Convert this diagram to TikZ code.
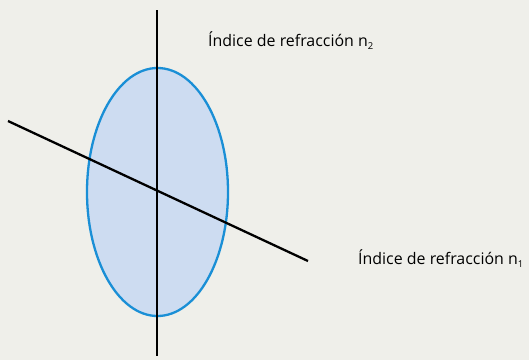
\documentclass[tikz,border=0pt]{standalone}
\usepackage{fontspec}
\setmainfont{Open Sans}
\definecolor{fondo}{HTML}{EFEFEA}
\definecolor{lente}{HTML}{CDDCF1}
\definecolor{borde}{HTML}{1A8FD6}
\tikzset{
    eje/.style={line width=2.3bp, black},
    rotulo/.style={anchor=base west, inner sep=0pt, font=\fontsize{16}{18}\selectfont}
}
\newcommand{\subind}[1]{\raisebox{-0.45ex}{\fontsize{9.5}{10}\selectfont #1}}
\begin{document}
\begin{tikzpicture}[x=1bp,y=-1bp]
    % fondo
    \fill[fondo] (0,0) rectangle (529,360);
    \useasboundingbox (0,0) rectangle (529,360);

    % lente
    \draw[line width=2.3bp, draw=borde, fill=lente] (157.5,192) ellipse [x radius=70.5, y radius=124];

    % ejes
    \coordinate (arriba) at (157,10);
    \coordinate (abajo) at (157,356);
    \coordinate (izq) at (8,121);
    \coordinate (der) at (308,261);
    \draw[eje] (arriba) -- (abajo);
    \draw[eje] (izq) -- (der);

    % etiquetas
    \node[rotulo] (n2) at (208,46) {Índice de refracción n\subind{2}};
    \node[rotulo] (n1) at (358,264) {Índice de refracción n\subind{1}};
\end{tikzpicture}
\end{document}
